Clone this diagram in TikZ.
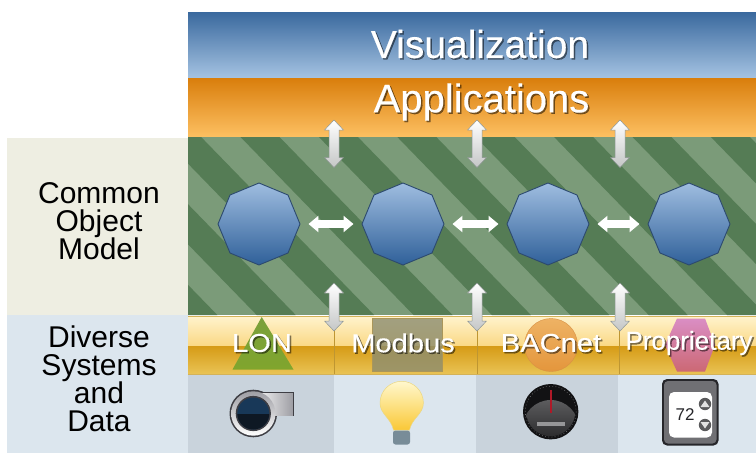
\documentclass[tikz,border=0pt]{standalone}
\usepackage{fontspec}
\setmainfont{Liberation Sans}
\newfontfamily\heavywhite[FakeBold=0.3]{Liberation Sans}
\usetikzlibrary{arrows.meta,shapes.geometric,calc}
\definecolor{stripeD}{HTML}{557C55}
\definecolor{stripeL}{HTML}{7B9B79}
\definecolor{cream}{HTML}{EEEEE2}
\definecolor{paleblue}{HTML}{DCE6EE}
\definecolor{greyblue}{HTML}{C9D3DC}
\definecolor{inkdark}{HTML}{26262A}
\definecolor{octline}{HTML}{2D4A6E}
\definecolor{top8}{HTML}{9FBDE0}
\definecolor{mid8}{HTML}{6A97CC}
\definecolor{bot8}{HTML}{2F6099}
\definecolor{greyA}{HTML}{C4C6C6}
\definecolor{greyB}{HTML}{8E9694}
\definecolor{visT}{RGB}{58,105,158}
\definecolor{visB}{RGB}{165,195,226}
\definecolor{appT}{RGB}{217,126,12}
\definecolor{appB}{RGB}{253,192,98}
\definecolor{bandAT}{RGB}{255,243,205}
\definecolor{bandAB}{RGB}{250,216,132}
\definecolor{bandBT}{RGB}{214,155,22}
\definecolor{bandBB}{RGB}{233,195,85}
\definecolor{bandEdge}{RGB}{212,178,88}
\definecolor{bandDiv}{RGB}{190,150,50}
\definecolor{triT}{RGB}{122,160,60}
\definecolor{triB}{RGB}{128,165,45}
\definecolor{sqF}{RGB}{140,140,110}
\definecolor{sqL}{RGB}{170,150,90}
\definecolor{cirT}{RGB}{238,178,100}
\definecolor{cirB}{RGB}{228,150,60}
\definecolor{cirL}{RGB}{215,145,70}
\definecolor{hexT}{RGB}{218,142,196}
\definecolor{hexB}{RGB}{204,104,116}
\definecolor{pumpG}{RGB}{158,158,164}
\definecolor{pumpL}{RGB}{62,62,68}
\definecolor{pumpC}{RGB}{24,56,88}
\definecolor{pumpD}{RGB}{14,24,36}
\definecolor{bulbT}{RGB}{255,248,205}
\definecolor{bulbB}{RGB}{250,200,55}
\definecolor{bulbL}{RGB}{235,215,130}
\definecolor{bulbS}{RGB}{120,140,152}
\definecolor{gaugeI}{RGB}{92,92,94}
\definecolor{gaugeO}{RGB}{18,18,20}
\definecolor{gaugeT}{RGB}{150,150,152}
\definecolor{gaugeN}{RGB}{175,25,40}
\definecolor{thermG}{RGB}{112,112,116}
\definecolor{thermB}{RGB}{90,90,92}
\definecolor{thermA}{RGB}{225,225,225}
\newcommand{\sizedtext}[1]{\fontsize{#1}{#1}\selectfont}
% vertical double block arrow between two named coordinates
\newcommand{\vblock}[2]{%
  \shade[vconn] (#1) -- ($(#1)+(9.5,10)$) -- ($(#1)+(5,10)$) -- ($(#2)+(5,-10)$) -- ($(#2)+(9.5,-10)$) -- (#2) -- ($(#2)+(-9.5,-10)$) -- ($(#2)+(-5,-10)$) -- ($(#1)+(-5,10)$) -- ($(#1)+(-9.5,10)$) -- cycle;}
\tikzset{
  x=1pt,y=-1pt,
  octa/.style={regular polygon,regular polygon sides=8,shape border rotate=22.5,minimum size=82pt,inner sep=0pt,draw=octline,line width=.9pt,top color=top8,middle color=mid8,bottom color=bot8},
  hconn/.style={draw=white,line width=8pt,{Triangle[length=10pt,width=16pt]}-{Triangle[length=10pt,width=16pt]},shorten >=8pt,shorten <=8pt},
  vconn/.style={top color=white,bottom color=greyA,draw=greyB,line width=.5pt,line join=round},
  bigtext/.style={text=white,font=\heavywhite\sizedtext{39}},
  apptext/.style={text=white,font=\heavywhite\sizedtext{40}},
  sidetext/.style={text=black,align=center,font=\fontsize{30}{28}\selectfont},
  bandtext/.style={text=white,font=\heavywhite\sizedtext{26},xscale=1.12,transform shape},
  proptext/.style={text=white,font=\heavywhite\sizedtext{26}},
  shadowtext/.style={text=black,opacity=.5},
}
\begin{document}
\begin{tikzpicture}
\useasboundingbox (0,0) rectangle (756,453);
\fill[white] (0,0) rectangle (756,453);
% side panels
\fill[cream] (7,138) rectangle (188,315);
\fill[paleblue] (7,315) rectangle (188,453);
% bottom columns
\fill[greyblue] (188,374) rectangle (334,453);
\fill[paleblue] (334,374) rectangle (476,453);
\fill[greyblue] (476,374) rectangle (618,453);
\fill[paleblue] (618,374) rectangle (756,453);
% top bands
\shade[top color=visT,bottom color=visB] (188,12) rectangle (756,78);
\shade[top color=appT,bottom color=appB] (188,78) rectangle (756,137);
% stripes
\begin{scope}
\clip (188,137) rectangle (756,315);
\fill[stripeL] (188,137) rectangle (756,315);
\foreach \k in {-4,...,8}{
  \fill[stripeD] ({240.5+78.4*\k},137) -- ({279.5+78.4*\k},137) -- ({279.5+78.4*\k+173},315) -- ({240.5+78.4*\k+173},315) -- cycle;
}
\end{scope}
% protocol band
\shade[top color=bandAT,bottom color=bandAB] (188,316) rectangle (756,346);
\shade[top color=bandBT,bottom color=bandBB] (188,346) rectangle (756,374);
\draw[draw=bandEdge,line width=.8pt] (188,316) -- (756,316) (188,374) -- (756,374);
\foreach \x in {334,477,619}{\draw[draw=bandDiv,line width=.7pt] (\x,316) -- (\x,374);}
% protocol shapes
\shade[top color=triT,bottom color=triB] (261.7,317) -- (293.5,369.5) -- (232.5,369.5) -- cycle;
\fill[sqF,opacity=.8] (372,318) rectangle (442,371);
\draw[sqL,line width=.6pt] (372,318) rectangle (442,371);
\shade[top color=cirT,bottom color=cirB,draw=cirL] (551,345) circle (26.5);
\shade[top color=hexT,bottom color=hexB] (665,345) -- (677,318.5) -- (705,318.5) -- (715,345) -- (705,371.5) -- (677,371.5) -- cycle;
% icons: blower
\fill[pumpL] (253.3,413.5) circle (23.8);
\fill[pumpL] (253.3,391.6) rectangle (294,416.4);
\shade[left color=white,right color=pumpG] (253.3,393) rectangle (292.8,415);
\shade[top color=pumpG,bottom color=white] (253.3,413.5) circle (22.2);
\fill[pumpL] (253.3,413.5) circle (17.6);
\fill[pumpC] (253.3,413.5) circle (16);
\begin{scope}
\clip (230,414) rectangle (277,440);
\fill[pumpD] (253.3,413.5) circle (16);
\end{scope}
% icons: bulb
\shade[top color=bulbT,bottom color=bulbB,draw=bulbL,line width=.5pt] (393.5,430) .. controls (391,418) and (380,414) .. (380,403) arc (180:360:21.7) .. controls (423.4,414) and (412,418) .. (409.5,430) -- cycle;
\fill[bulbS,rounded corners=2.5pt] (393,430.5) rectangle (410,444.5);
% icons: gauge
\fill[gaugeO] (550.7,411.7) circle (27.7);
\begin{scope}
\clip (550.7,411.7) circle (24.5);
\shade[top color=gaugeI,bottom color=gaugeO] (550.7,428) circle (28);
\end{scope}
\draw[draw=gaugeT,dash pattern=on .8pt off 2.4pt,line width=.6pt,opacity=.7] (550.7,411.7) circle (25.5);
\fill[gaugeT] (537,421.7) rectangle (565,426);
\draw[draw=gaugeN,line width=2pt] (550.7,390) -- (550.7,413);
% icons: thermostat
\fill[fill=inkdark,rounded corners=5pt] (662,379) rectangle (718.5,445.5);
\fill[fill=thermG,rounded corners=4pt] (664,381) rectangle (716.5,443.5);
\fill[fill=white,rounded corners=5pt] (669,392) rectangle (712,437.5);
\node[text=inkdark,font=\sizedtext{17}] (setpoint) at (685,415) {72};
\fill[thermB] (705,404) circle (6.2) (705,425) circle (6.2);
\fill[thermA] (700.5,407) -- (709.5,407) -- (705,400.5) -- cycle (700.5,422) -- (709.5,422) -- (705,428.5) -- cycle;
% objects
\node[octa] (o1) at (259,224) {};
\node[octa] (o2) at (403,224) {};
\node[octa] (o3) at (548,224) {};
\node[octa] (o4) at (689,224) {};
\draw[hconn] (o1) -- (o2);
\draw[hconn] (o2) -- (o3);
\draw[hconn] (o3) -- (o4);
% vertical connectors
\foreach \n/\x in {a/334,b/477,c/620}{
  \coordinate (t\n1) at (\x,120); \coordinate (t\n2) at (\x,167.5);
  \coordinate (u\n1) at (\x,283); \coordinate (u\n2) at (\x,331);
  \vblock{t\n1}{t\n2}
  \vblock{u\n1}{u\n2}
}
% labels
\node[bigtext,shadowtext] at (481.5,45.5) {Visualization};
\node[bigtext] (vis) at (480,44) {Visualization};
\node[apptext,shadowtext] at (483,103.5) {Applications};
\node[apptext] (app) at (481.5,102) {Applications};
\node[sidetext] (com) at (99,221) {Common\\Object\\Model};
\node[sidetext] (div) at (99,378.5) {Diverse\\Systems\\and\\Data};
\node[bandtext,shadowtext] at (263.5,344.5) {LON};
\node[bandtext] (lon) at (262,343) {LON};
\node[bandtext,shadowtext] at (404.5,344.5) {Modbus};
\node[bandtext] (mod) at (403,343) {Modbus};
\node[bandtext,shadowtext] at (552.5,344.5) {BACnet};
\node[bandtext] (bac) at (551,343) {BACnet};
\node[proptext,shadowtext] at (690.5,344.5) {Proprietary};
\node[proptext] (pro) at (689,343) {Proprietary};
\end{tikzpicture}
\end{document}
